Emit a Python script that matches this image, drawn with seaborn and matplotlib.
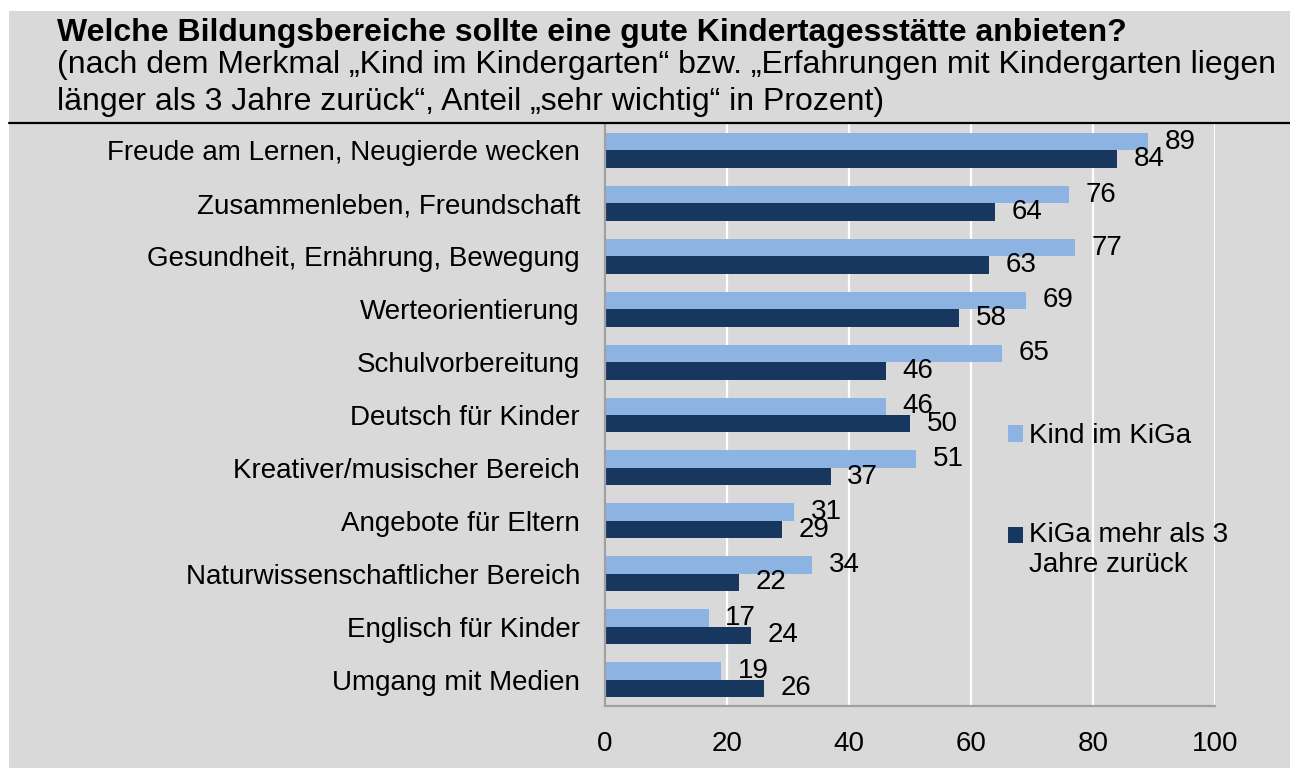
import pandas as pd
import matplotlib
matplotlib.use("Agg")
import matplotlib.pyplot as plt
from matplotlib.patches import Rectangle
from matplotlib.lines import Line2D
import seaborn as sns

# data
bereiche = [
    "Freude am Lernen, Neugierde wecken",
    "Zusammenleben, Freundschaft",
    "Gesundheit, Ernährung, Bewegung",
    "Werteorientierung",
    "Schulvorbereitung",
    "Deutsch für Kinder",
    "Kreativer/musischer Bereich",
    "Angebote für Eltern",
    "Naturwissenschaftlicher Bereich",
    "Englisch für Kinder",
    "Umgang mit Medien",
]
kind_im_kiga = [89, 76, 77, 69, 65, 46, 51, 31, 34, 17, 19]
kiga_zurueck = [84, 64, 63, 58, 46, 50, 37, 29, 22, 24, 26]
gruppen = ["Kind im KiGa", "KiGa mehr als 3\nJahre zurück"]
x_ticks = [0, 20, 40, 60, 80, 100]

hell = "#8db3e2"
dunkel = "#17375e"
grau_bg = "#d9d9d9"
achse = "#a0a0a0"

df = pd.DataFrame({
    "Bereich": bereiche * 2,
    "Anteil": kind_im_kiga + kiga_zurueck,
    "Gruppe": [gruppen[0]] * len(bereiche) + [gruppen[1]] * len(bereiche),
})

sns.set_style("white")
plt.rcParams["font.family"] = ["Liberation Sans", "DejaVu Sans"]
plt.rcParams["font.size"] = 20
plt.rcParams["text.color"] = "black"
plt.rcParams["xtick.labelcolor"] = "black"
plt.rcParams["ytick.labelcolor"] = "black"

fig = plt.figure(figsize=(12.9, 7.68), dpi=100, facecolor="white")
fig.patches.append(Rectangle((9 / 1290, 0), 1, 1 - 11 / 768, transform=fig.transFigure,
                             facecolor=grau_bg, edgecolor="none", zorder=-10))
ax = fig.add_axes([605 / 1290, 1 - 706 / 768, 610 / 1290, 582 / 768])
ax.set_facecolor("none")

sns.barplot(data=df, y="Bereich", x="Anteil", hue="Gruppe", orient="h",
            palette=[hell, dunkel], saturation=1, width=0.66, linewidth=0, ax=ax)

for cont in ax.containers:
    ax.bar_label(cont, padding=12, fontsize=20, color="black")

ax.set_xlim(0, 100)
ax.set_xticks(x_ticks)
ax.set_xlabel("")
ax.set_ylabel("")
ax.set_axisbelow(True)
ax.grid(axis="x", color="white", lw=1.6)
ax.grid(axis="y", visible=False)

for s in ["top", "right"]:
    ax.spines[s].set_visible(False)
for s in ["left", "bottom"]:
    ax.spines[s].set_color(achse)
    ax.spines[s].set_linewidth(1.6)

n = len(bereiche)
ax.set_yticks([i - 0.5 for i in range(n + 1)], minor=True)
ax.tick_params(axis="y", which="major", length=0, pad=18, labelsize=20, labelcolor="black")
ax.tick_params(axis="y", which="minor", length=5, width=1.6, color=achse)
ax.tick_params(axis="x", length=5, width=1.6, color=achse, pad=13, labelsize=20,
               labelcolor="black")

handles, labels = ax.get_legend_handles_labels()
leg = ax.legend(handles, labels, loc="upper left", bbox_to_anchor=(1008 / 1290, 1 - 423 / 768),
                bbox_transform=fig.transFigure, frameon=False, fontsize=20,
                handlelength=0.55, handleheight=0.55, handletextpad=0.2, labelspacing=2.63,
                borderaxespad=0, borderpad=0)
# Kästchen an der ersten Zeile des zweizeiligen Eintrags ausrichten
h2 = leg.legend_handles[1]
h2.set_y(h2.get_y() + 11)

# Kopfzeile
fig.text(57 / 1290, 1 - 41 / 768, "Welche Bildungsbereiche sollte eine gute Kindertagesstätte anbieten?",
         fontsize=23, fontweight="bold", va="baseline", ha="left")
fig.text(57 / 1290, 1 - 73 / 768,
         "(nach dem Merkmal \u201eKind im Kindergarten\u201c bzw. \u201eErfahrungen mit Kindergarten liegen",
         fontsize=23, va="baseline", ha="left")
fig.text(57 / 1290, 1 - 110 / 768,
         "länger als 3 Jahre zurück\u201c, Anteil \u201esehr wichtig\u201c in Prozent)",
         fontsize=23, va="baseline", ha="left")
fig.add_artist(Line2D([9 / 1290, 1], [1 - 123 / 768] * 2, transform=fig.transFigure,
                      color="black", lw=1.6))

fig.savefig("out.png", dpi=100, facecolor=fig.get_facecolor())
